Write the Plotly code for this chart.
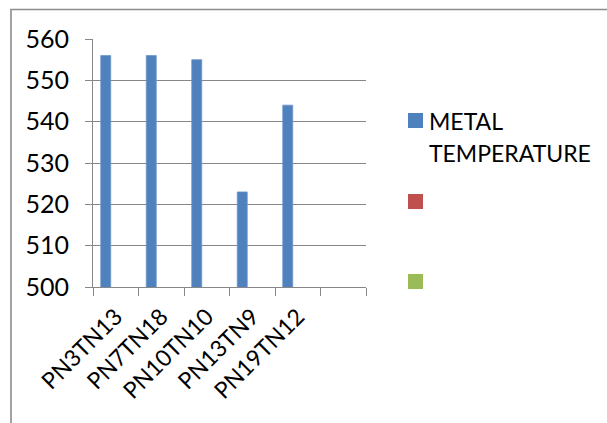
import plotly.graph_objects as go

# Chart data
categories = ["PN3TN13", "PN7TN18", "PN10TN10", "PN13TN9", "PN19TN12", " "]
metal_temperature = [556, 556, 555, 523, 544, None]
series_2 = [None, None, None, None, None, None]
series_3 = [None, None, None, None, None, None]

series_names = ["METAL", "TEMPERATURE"]
y_ticks = [500, 510, 520, 530, 540, 550, 560]

BLUE = "#4F81BD"
RED = "#C0504D"
GREEN = "#9BBB59"
GRID = "#878787"
FONT = "Lato"

W, H = 607, 423
L, R, T, B = 93, 241, 39, 136
PW, PH = W - L - R, H - T - B


def px_to_paper_x(x):
    return (x - L) / PW


def px_to_paper_y(y):
    return 1 - (y - T) / PH


fig = go.Figure()
fig.add_trace(go.Bar(x=categories, y=metal_temperature, marker=dict(color=BLUE, line=dict(color="#6E97CC", width=0.8)), name="METAL TEMPERATURE"))
fig.add_trace(go.Bar(x=categories, y=series_2, marker=dict(color=RED), name=" "))
fig.add_trace(go.Bar(x=categories, y=series_3, marker=dict(color=GREEN), name="  "))

# Outer chart-area border (top and left edges visible)
shapes = [
    dict(type="rect", xref="paper", yref="paper",
         x0=px_to_paper_x(11), x1=px_to_paper_x(640),
         y0=px_to_paper_y(470), y1=px_to_paper_y(9.5),
         line=dict(color="#8C8C8C", width=1.6), fillcolor="rgba(0,0,0,0)", layer="below"),
]

# Legend squares
legend_items = [(113, BLUE), (194, RED), (274, GREEN)]
for top, col in legend_items:
    shapes.append(dict(type="rect", xref="paper", yref="paper",
                       x0=px_to_paper_x(408), x1=px_to_paper_x(423),
                       y0=px_to_paper_y(top + 15), y1=px_to_paper_y(top),
                       line=dict(width=0), fillcolor=col))

annotations = []
for i, txt in enumerate(series_names):
    annotations.append(dict(
        text=txt, xref="paper", yref="paper",
        x=px_to_paper_x(427), y=px_to_paper_y(121 + 32 * i),
        xanchor="left", yanchor="middle", showarrow=False,
        font=dict(family=FONT, size=23, color="black")))

fig.update_layout(
    width=W, height=H,
    margin=dict(l=L, r=R, t=T, b=B),
    paper_bgcolor="white", plot_bgcolor="white",
    barmode="group", bargap=0.34, bargroupgap=0,
    showlegend=False,
    shapes=shapes, annotations=annotations,
    font=dict(family=FONT, color="black"),
)

fig.update_xaxes(
    type="category", categoryorder="array", categoryarray=categories,
    tickson="boundaries", ticks="outside", ticklen=8, tickcolor=GRID,
    showline=True, linecolor=GRID, linewidth=1, showgrid=False,
    tickangle=-45, tickfont=dict(family=FONT, size=23, color="black"),
    ticklabelstandoff=6,
    range=[-0.5, 5.5],
)

fig.update_yaxes(
    range=[500, 560], tickvals=y_ticks, ticks="outside", ticklen=7, tickcolor=GRID,
    showline=True, linecolor=GRID, linewidth=1,
    showgrid=True, gridcolor=GRID, gridwidth=1,
    tickfont=dict(family=FONT, size=25, color="black"), ticklabelstandoff=11,
    zeroline=False,
)

fig.write_html("out.html")
